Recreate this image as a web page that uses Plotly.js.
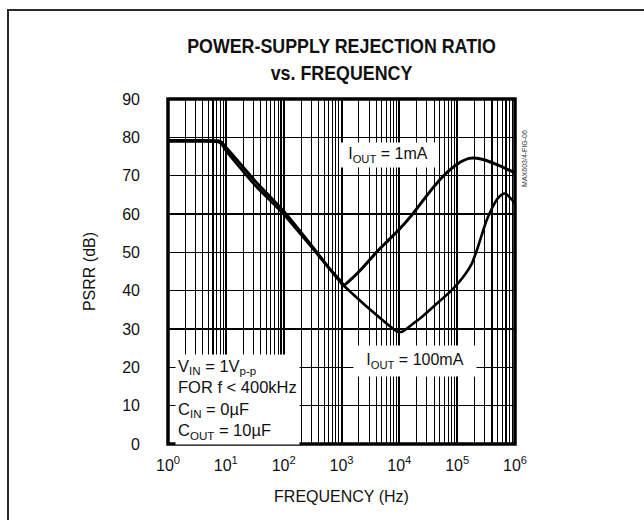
<!DOCTYPE html>
<html>
<head>
<meta charset="utf-8">
<script src="https://cdn.plot.ly/plotly-3.0.1.min.js"></script>
<style>
  html, body { margin: 0; padding: 0; background: #fff; }
  #wrap { position: relative; width: 644px; height: 520px; overflow: hidden; }
  #chart { position: absolute; left: 0; top: 0; width: 644px; height: 520px; }
  #frame { position: absolute; left: 7px; top: 9px; width: 660px; height: 540px;
           border-left: 2px solid #2a2a2a; border-top: 2px solid #2a2a2a; pointer-events: none; }
</style>
</head>
<body>
<div id="wrap"><div id="chart"></div><div id="frame"></div></div>
<script>
// ---- data ----
const freq1mA = [1, 3, 7.4, 8.5, 10, 16, 32, 100, 316, 630, 1000, 1070, 1600, 2500, 4000, 6300, 10000, 16000, 25000, 40000, 63000, 100000, 160000, 200000, 280000, 500000, 700000, 1000000];
const psrr1mA = [79.2, 79.2, 79.1, 78.7, 77.4, 73.9, 68.6, 60.7, 51.4, 45.6, 41.9, 41.3, 43.5, 46.5, 50, 53, 56, 59.5, 63.3, 67.2, 70.5, 73, 74.5, 74.6, 74.2, 72.8, 71.8, 70.8];

const freq100mA = [1, 3, 7.4, 8.5, 10, 16, 32, 100, 316, 630, 1000, 1100, 1600, 3160, 6300, 9300, 11200, 16000, 23000, 40000, 79000, 126000, 178000, 224000, 316000, 400000, 500000, 630000, 710000, 850000, 1000000];
const psrr100mA = [78.9, 78.9, 78.8, 78.2, 76.6, 72.8, 67.5, 59.9, 51.0, 45.6, 42.3, 41.3, 39, 35, 31.2, 29.3, 29.3, 31, 32.8, 36, 40, 43.5, 47, 51, 58, 61.5, 64, 65.3, 65.2, 64, 62.8];

const xTickVals = [1, 10, 100, 1000, 10000, 100000, 1000000];
const xTickText = ['10<sup>0</sup>', '10<sup>1</sup>', '10<sup>2</sup>', '10<sup>3</sup>', '10<sup>4</sup>', '10<sup>5</sup>', '10<sup>6</sup>'];
const yTickVals = [0, 10, 20, 30, 40, 50, 60, 70, 80, 90];

// minor grid positions (2..9 in each decade)
const minorVals = [];
for (let d = 0; d < 6; d++) for (let m = 2; m <= 9; m++) minorVals.push(m * Math.pow(10, d));

const FONT = 'Liberation Sans, Arial, Helvetica, sans-serif';

const lineStyle = { color: '#000', width: 3, shape: 'spline', smoothing: 0.6 };
const traces = [
  { x: freq1mA, y: psrr1mA, mode: 'lines', line: lineStyle, name: 'IOUT = 1mA', hoverinfo: 'skip' },
  { x: freq100mA, y: psrr100mA, mode: 'lines', line: { color: '#000', width: 2.6, shape: 'spline', smoothing: 0.6 }, name: 'IOUT = 100mA', hoverinfo: 'skip' }
];

const layout = {
  width: 644, height: 520,
  margin: { l: 168, r: 129, t: 99, b: 76 },
  paper_bgcolor: '#fff', plot_bgcolor: '#fff',
  showlegend: false,
  font: { family: FONT, size: 16, color: '#111' },
  title: {
    text: 'POWER-SUPPLY REJECTION RATIO<br>vs. FREQUENCY',
    font: { family: FONT, size: 20.5, weight: 'bold', color: '#111' },
    x: 0.5, xref: 'paper', xanchor: 'center',
    y: 1 - 53 / 520, yref: 'container', yanchor: 'middle'
  },
  xaxis: {
    type: 'log', range: [0, 6],
    tickmode: 'array', tickvals: xTickVals, ticktext: xTickText,
    ticks: '', ticklabelstandoff: 10,
    showgrid: true, gridcolor: '#000', gridwidth: 2,
    minor: { tickmode: 'array', tickvals: minorVals, showgrid: true, gridcolor: '#000', gridwidth: 1.1, ticks: '' },
    showline: false, zeroline: false,
    tickfont: { size: 16 },
    title: { text: 'FREQUENCY (Hz)', font: { size: 16 }, standoff: 17 }
  },
  yaxis: {
    range: [0, 90],
    tickmode: 'array', tickvals: yTickVals,
    ticks: '', ticklabelstandoff: 27,
    showgrid: true, gridcolor: '#000', gridwidth: 1.2,
    showline: false, zeroline: false,
    tickfont: { size: 16 },
    title: { text: 'PSRR (dB)', font: { size: 16 }, standoff: 22 }
  },
  shapes: [
    { type: 'rect', xref: 'paper', yref: 'paper', x0: 0, x1: 1, y0: 0, y1: 1,
      line: { color: '#000', width: 3.5 }, layer: 'above' }
  ],
  annotations: [
    { xref: 'x', yref: 'y', x: 3.80, y: 75.4, text: 'I<sub>OUT</sub> = 1mA', showarrow: false,
      bgcolor: '#fff', width: 94, height: 22, font: { size: 16 } },
    { xref: 'x', yref: 'y', x: 4.27, y: 21.6, text: 'I<sub>OUT</sub> = 100mA', showarrow: false,
      bgcolor: '#fff', width: 120, height: 28, font: { size: 16 } },
    { xref: 'paper', yref: 'y', x: 0.02, y: 11.6, xanchor: 'left', yanchor: 'middle', align: 'left',
      text: 'V<sub>IN</sub> = 1V<sub>p-p</sub><br>FOR f &lt; 400kHz<br>C<sub>IN</sub> = 0µF<br>C<sub>OUT</sub> = 10µF',
      showarrow: false, bgcolor: '#fff', borderpad: 2, font: { size: 16.5 } },
    { xref: 'paper', yref: 'paper', x: 1.043, y: 0.916, text: 'MAX603/4-FIG-06', textangle: -90,
      showarrow: false, font: { size: 7, color: '#333' } }
  ]
};

Plotly.newPlot('chart', traces, layout, { staticPlot: true, displayModeBar: false }).then(function (gd) {
  // emulate the condensed bold title face of the reference
  const t = gd.querySelector('.g-gtitle text');
  if (t) {
    const cx = parseFloat(t.getAttribute('x')) || 341.5;
    const prev = t.getAttribute('transform') || '';
    t.setAttribute('transform', 'translate(' + cx + ',0) scale(0.87,1) translate(' + (-cx) + ',0) ' + prev);
  }
});
</script>
</body>
</html>
